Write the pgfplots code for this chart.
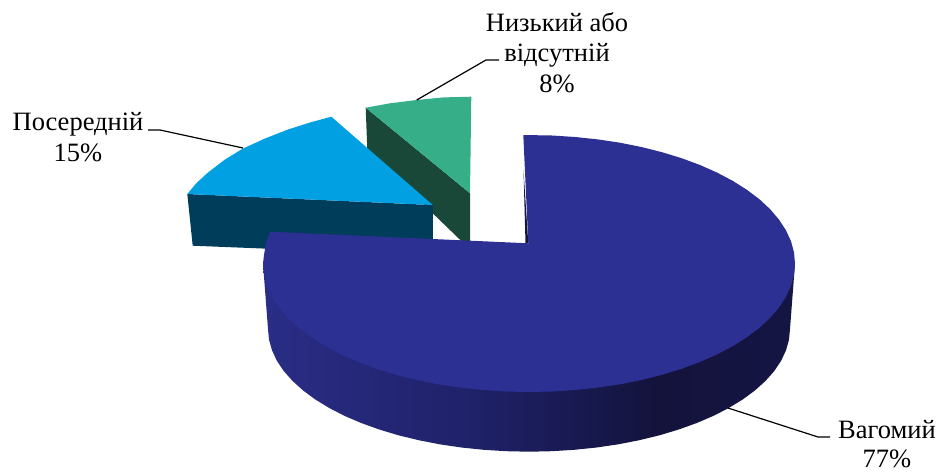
\documentclass[border=0pt]{standalone}
\usepackage{fontspec}
\setmainfont{Liberation Serif}
\usepackage{pgfplots}
\pgfplotsset{compat=1.18}
\definecolor{navy}{HTML}{2C3092}
\definecolor{sky}{HTML}{00A0E3}
\definecolor{skyd}{HTML}{003D5B}
\definecolor{grn}{HTML}{36AE87}
\definecolor{grnd}{HTML}{194838}
\definecolor{nv1}{HTML}{2A2D86}
\definecolor{nv2}{HTML}{1F2168}
\definecolor{nv3}{HTML}{13133C}
\definecolor{nv4}{HTML}{151544}
\definecolor{navyd}{HTML}{14143F}
\pgfdeclarehorizontalshading{navyside}{100bp}{color(0bp)=(nv1); color(25bp)=(nv1); color(45bp)=(nv2); color(62bp)=(nv3); color(75bp)=(nv4); color(100bp)=(nv4)}
\begin{document}
\begin{tikzpicture}
\begin{axis}[
  scale only axis, width=942pt, height=472pt,
  xmin=0, xmax=942, ymin=0, ymax=472, y dir=reverse,
  axis lines=none, clip=false, ticks=none,
  every axis plot/.append style={no marks},
]
\path[use as bounding box] (axis cs:0,0) rectangle (axis cs:942,472);
% green slice: side, top
\addplot[fill=grnd, draw=none] coordinates {(365.7,107.7)(470,193.3)(470,245)(466.5,246)(367.3,150)} -- cycle;
\addplot[fill=grn, draw=none] coordinates {(365.7,107.7)(390,103.3)(416.7,100)(443.3,97.4)(471.3,96.7)(470,193.3)} -- cycle;
% blue slice: side, top
\addplot[fill=skyd, draw=none] coordinates {(187.3,194)(192.7,245.7)(300,250)(432.8,254)(432.8,205)} -- cycle;
\addplot[fill=sky, draw=none] coordinates {(331.3,116.7)(310,122.5)(288,129.5)(265,138.5)(243,148.5)(225,159.5)(208,172.5)(196.5,183)(187.3,194)(432.8,205)} -- cycle;
% leaders
\addplot[black, line width=1.2pt] coordinates {(148,130)(160,130)(243,148)};
\addplot[black, line width=1.2pt] coordinates {(416.7,100)(486,60)(499,60)};
\addplot[black, line width=1.2pt] coordinates {(728,408)(818,437)(830,437)};
% navy: side wall
\addplot[shading=navyside, draw=none] coordinates {
(795,263.5)(790,329)(789,339.7)(786,350.3)(781.1,360.8)(774.3,371)(765.5,380.9)(755,390.4)(742.8,399.4)(728.9,407.9)
(713.6,415.8)(696.8,423)(678.7,429.5)(659.5,435.3)(639.3,440.2)(618.3,444.3)(596.6,447.5)(574.3,449.8)(551.7,451.2)(529,451.7)
(506.3,451.2)(483.7,449.8)(461.4,447.5)(439.7,444.3)(418.7,440.2)(398.5,435.3)(379.3,429.5)(361.2,423)(344.4,415.8)(329.1,407.9)
(315.2,399.4)(303,390.4)(292.5,380.9)(283.7,371)(276.9,360.8)(272,350.3)(269,339.7)(268,329)(263,263.5)} -- cycle;
% navy: inner sliver
\addplot[fill=navyd, draw=none] coordinates {(523.5,170)(528.3,243.3)(525.5,243.3)} -- cycle;
% navy: top
\addplot[fill=navy, draw=none] coordinates {
(523.3,135)(552.2,135.5)(575.2,137)(597.8,139.4)(620,142.7)(641.4,147)(662,152.2)(681.6,158.2)(700,165)(717.1,172.6)
(732.8,180.9)(746.9,189.8)(759.4,199.2)(770.1,209.2)(779,219.6)(785.9,230.2)(791,241.2)(794,252.3)(795,263.5)
(794,274.7)(791,285.8)(785.9,296.8)(779,307.4)(770.1,317.8)(759.4,327.8)(746.9,337.2)(732.8,346.1)(717.1,354.4)(700,361.9)
(681.6,368.8)(662,374.8)(641.4,380)(620,384.3)(597.8,387.6)(575.2,390)(552.2,391.5)(529,392)
(505.8,391.5)(482.8,390)(460.2,387.6)(438,384.3)(416.6,380)(396,374.8)(376.4,368.8)(358,361.9)(340.9,354.4)(325.2,346.1)
(311.1,337.2)(298.6,327.8)(287.9,317.8)(279,307.4)(272.1,296.8)(267,285.8)(264,274.7)(263,263.5)(264,255)(266,243)(270,231.7)
(528.3,243.3)} -- cycle;
% labels
\node[align=center, font=\fontsize{26.5}{30.5}\selectfont, anchor=center] at (axis cs:557,52.5) {Низький або\\відсутній\\8\%};
\node[align=center, font=\fontsize{26.5}{30.5}\selectfont, anchor=center] at (axis cs:78,137) {Посередній\\15\%};
\node[align=center, font=\fontsize{26.5}{29}\selectfont, anchor=center] at (axis cs:887,444.5) {Вагомий\\77\%};
\end{axis}
\end{tikzpicture}
\end{document}
